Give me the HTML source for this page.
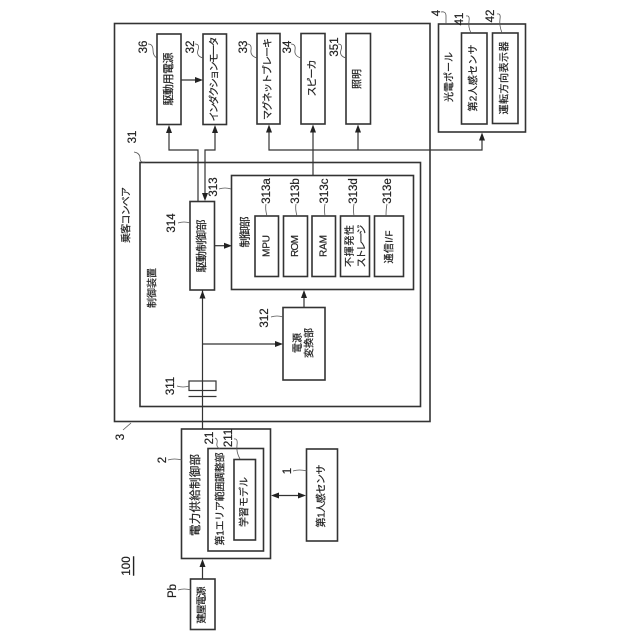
<!DOCTYPE html>
<html><head><meta charset="utf-8"><style>
html,body{margin:0;padding:0;background:#fff}
svg{display:block}
text{font-family:"Liberation Sans","Noto Sans CJK JP",sans-serif;fill:#222;stroke:#222;stroke-width:.2;text-anchor:middle;dominant-baseline:central;font-size:10px}
.b{fill:none;stroke:#333;stroke-width:1.6}
.l{fill:none;stroke:#333;stroke-width:1.2}
.t{fill:none;stroke:#555;stroke-width:.8}
.a{fill:#222;stroke:none}
.n text{font-size:11.5px}
.w{font-size:11px}
</style></head><body>
<svg width="640" height="640" viewBox="0 0 640 640" xmlns="http://www.w3.org/2000/svg">
<defs>
<path id="u" d="M0,0l-3,8h6z"/>
</defs>
<!-- boxes -->
<rect class="b" x="114.5" y="23.5" width="315.5" height="398"/>
<rect class="b" x="140" y="162.5" width="280.5" height="244"/>
<rect class="b" x="157" y="34" width="24" height="90.5"/>
<rect class="b" x="203" y="34" width="23.5" height="90.5"/>
<rect class="b" x="257" y="33.5" width="23" height="90.5"/>
<rect class="b" x="301" y="33.5" width="24" height="90.5"/>
<rect class="b" x="346" y="33.5" width="24.5" height="90.5"/>
<rect class="b" x="438.5" y="24" width="87" height="108"/>
<rect class="b" x="461.5" y="33" width="25.5" height="91"/>
<rect class="b" x="492.5" y="33" width="25.5" height="90.5"/>
<rect class="b" x="231.5" y="175.5" width="182" height="114"/>
<rect class="b" x="190" y="201.5" width="24.5" height="88.5"/>
<rect class="b" x="255" y="216" width="23.5" height="60.5"/>
<rect class="b" x="283.5" y="216" width="24" height="60.5"/>
<rect class="b" x="312" y="216" width="23.5" height="60.5"/>
<rect class="b" x="340.5" y="216" width="29" height="60.5"/>
<rect class="b" x="374.5" y="216" width="29" height="60.5"/>
<rect class="b" x="283" y="307.5" width="42" height="72.5"/>
<rect class="l" x="189" y="381" width="27" height="9.5"/>
<path class="l" d="M188.5,396.5H216.5"/>
<rect class="b" x="181.5" y="429" width="89" height="129.5"/>
<rect class="b" x="208" y="448.5" width="55.5" height="102.5"/>
<rect class="b" x="234" y="459.5" width="21.5" height="80.5"/>
<rect class="b" x="306.5" y="449" width="31" height="92"/>
<rect class="b" x="190.5" y="579" width="24.5" height="50.5"/>

<!-- connectors -->
<g class="l">
<path class="l" d="M202.5,290V429"/>
<path class="l" d="M202.5,344H279"/>
<path class="l" d="M304,307.5V294"/>
<path class="l" d="M214.5,245.7H227"/>
<path class="l" d="M181,80H198"/>
<path class="l" d="M169,129V150H198V201.5"/>
<path class="l" d="M215,129V150H205V196"/>
<path class="l" d="M269,129V150H482V137"/>
<path class="l" d="M313,129V175.5"/>
<path class="l" d="M358,129V150"/>
<path class="l" d="M202.5,579V563"/>
<path class="l" d="M274,495.5H302"/>
</g>
<!-- arrowheads -->
<use class="a" href="#u" x="169" y="125"/>
<use class="a" href="#u" x="215" y="125"/>
<use class="a" href="#u" x="269" y="124.5"/>
<use class="a" href="#u" x="313" y="124.5"/>
<use class="a" href="#u" x="358" y="124.5"/>
<use class="a" href="#u" x="482" y="132.5"/>
<use class="a" href="#u" x="202.5" y="290.5"/>
<use class="a" href="#u" x="304" y="290"/>
<use class="a" href="#u" x="202.5" y="559"/>
<path class="a" d="M205,201l-3,-8h6z"/>
<path class="a" d="M203,80l-8,-3v6z"/>
<path class="a" d="M232,245.7l-8,-3v6z"/>
<path class="a" d="M283,344l-8,-3v6z"/>
<path class="a" d="M306,495.5l-8,-3v6z"/>
<path class="a" d="M271,495.5l8,-3v6z"/>

<!-- leader squiggles -->
<g class="t">
<path d="M148,44q5,0 5,6t4,8"/>
<path d="M195,44q5,0 3,6t5,8"/>
<path d="M247,44q5,0 4,6t6,8"/>
<path d="M291,44q5,0 4,6t6,8"/>
<path d="M338,44q5,0 3,6t5,8"/>
<path d="M441,12q5,-1 5,4t0,8"/>
<path d="M466,16q4,-1 3,5t2,12"/>
<path d="M497,14q4,-1 3,5t2,14"/>
<path d="M134,152q6,1 6,6t5,4"/>
<path d="M219,189q6,-2 12,0"/>
<path d="M266,204q-1,5 1,12"/>
<path d="M296,204q-1,5 1,12"/>
<path d="M325,204q-1,5 0,12"/>
<path d="M354,204q-1,5 0,12"/>
<path d="M387,204q-1,5 -1,12"/>
<path d="M178,223q6,-2 12,0"/>
<path d="M271,317q6,-2 12,0"/>
<path d="M177,386q6,2 12,0"/>
<path d="M123,430l8,-7"/>
<path d="M168,460q6,-2 14,0"/>
<path d="M215,438q3,1 2,5t3,6"/>
<path d="M234,439q4,-1 3,6t3,14"/>
<path d="M293,471q6,-2 14,0"/>
<path d="M178,590q6,-2 13,0"/>
</g>

<!-- numbers -->
<g class="n">
<text transform="translate(144,47) rotate(-90)">36</text>
<text transform="translate(191,47) rotate(-90)">32</text>
<text transform="translate(244,47) rotate(-90)">33</text>
<text transform="translate(288,47) rotate(-90)">34</text>
<text transform="translate(335,47) rotate(-90)">351</text>
<text transform="translate(437,13) rotate(-90)">4</text>
<text transform="translate(460,19) rotate(-90)">41</text>
<text transform="translate(491,16) rotate(-90)">42</text>
<text transform="translate(133,137) rotate(-90)">31</text>
<text transform="translate(214,187) rotate(-90)">313</text>
<text transform="translate(267,191) rotate(-90)">313a</text>
<text transform="translate(296,191) rotate(-90)">313b</text>
<text transform="translate(325,191) rotate(-90)">313c</text>
<text transform="translate(354,191) rotate(-90)">313d</text>
<text transform="translate(388,191) rotate(-90)">313e</text>
<text transform="translate(172,223) rotate(-90)">314</text>
<text transform="translate(265,318) rotate(-90)">312</text>
<text transform="translate(171,386) rotate(-90)">311</text>
<text transform="translate(121,437) rotate(-90)">3</text>
<text transform="translate(163,460) rotate(-90)">2</text>
<text transform="translate(210,438) rotate(-90)">21</text>
<text transform="translate(229,438) rotate(-90)">211</text>
<text transform="translate(288,471) rotate(-90)">1</text>
<text transform="translate(173,591) rotate(-90)">Pb</text>
<text transform="translate(127,566) rotate(-90)" text-decoration="underline">100</text>
</g>

<!-- labels -->
<text class="w" transform="translate(169,79) rotate(-90)" textLength="53">駆動用電源</text>
<text transform="translate(215,79) rotate(-90)" textLength="85">インダクションモータ</text>
<text transform="translate(268.5,79) rotate(-90)" textLength="82">マグネットブレーキ</text>
<text transform="translate(313,78) rotate(-90)" textLength="37">スピーカ</text>
<text transform="translate(358,79) rotate(-90)" textLength="20">照明</text>
<text transform="translate(450,77) rotate(-90)" textLength="50">光電ポール</text>
<text transform="translate(474,78) rotate(-90)" textLength="67">第2人感センサ</text>
<text transform="translate(505,78) rotate(-90)" textLength="73">運転方向表示器</text>
<text transform="translate(127,215) rotate(-90)" textLength="56">乗客コンベア</text>
<text transform="translate(153,288) rotate(-90)" textLength="40">制御装置</text>
<text class="w" transform="translate(245.5,232) rotate(-90)" textLength="31">制御部</text>
<text class="w" transform="translate(202,246) rotate(-90)" textLength="53">駆動制御部</text>
<text transform="translate(267,246) rotate(-90)" textLength="22">MPU</text>
<text transform="translate(295.5,246) rotate(-90)" textLength="22">ROM</text>
<text transform="translate(324,246) rotate(-90)" textLength="22">RAM</text>
<text transform="translate(350.5,246) rotate(-90)" textLength="42">不揮発性</text>
<text transform="translate(362.5,246) rotate(-90)" textLength="43">ストレージ</text>
<text transform="translate(390,247) rotate(-90)" textLength="33">通信I/F</text>
<text transform="translate(298.5,343) rotate(-90)" textLength="20">電源</text>
<text transform="translate(310,343) rotate(-90)" textLength="30">変換部</text>
<text class="w" style="font-size:11.5px" transform="translate(196,495) rotate(-90)" textLength="82">電力供給制御部</text>
<text transform="translate(221,499) rotate(-90)" textLength="93">第1エリア範囲調整部</text>
<text transform="translate(245,502) rotate(-90)" textLength="50">学習モデル</text>
<text transform="translate(322,496) rotate(-90)" textLength="63">第1人感センサ</text>
<text transform="translate(202.5,605) rotate(-90)" textLength="37">建屋電源</text>
</svg>
</body></html>
